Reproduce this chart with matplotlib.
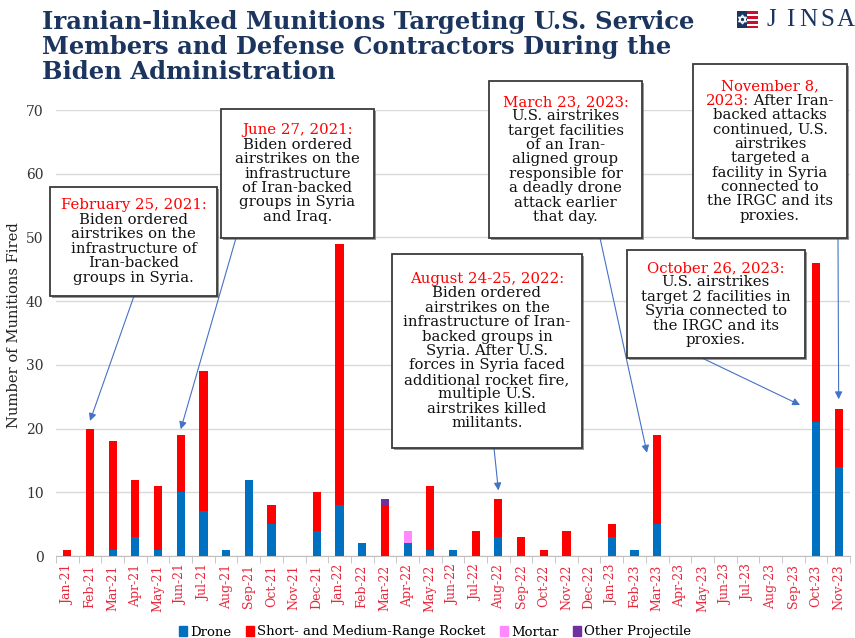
import matplotlib
matplotlib.use("Agg")
import matplotlib.pyplot as plt
import numpy as np
from matplotlib.patches import Rectangle, Polygon
from matplotlib.offsetbox import TextArea, HPacker, VPacker, AnnotationBbox
from matplotlib import patheffects as pe

months = ["Jan-21", "Feb-21", "Mar-21", "Apr-21", "May-21", "Jun-21", "Jul-21", "Aug-21",
          "Sep-21", "Oct-21", "Nov-21", "Dec-21", "Jan-22", "Feb-22", "Mar-22", "Apr-22",
          "May-22", "Jun-22", "Jul-22", "Aug-22", "Sep-22", "Oct-22", "Nov-22", "Dec-22",
          "Jan-23", "Feb-23", "Mar-23", "Apr-23", "May-23", "Jun-23", "Jul-23", "Aug-23",
          "Sep-23", "Oct-23", "Nov-23"]
drone = [0, 0, 1, 3, 1, 10, 7, 1, 12, 5, 0, 4, 8, 2, 0, 2, 1, 1, 0, 3, 0, 0, 0, 0,
         3, 1, 5, 0, 0, 0, 0, 0, 0, 21, 14]
rocket = [1, 20, 17, 9, 10, 9, 22, 0, 0, 3, 0, 6, 41, 0, 8, 0, 10, 0, 4, 6, 3, 1, 4, 0,
          2, 0, 14, 0, 0, 0, 0, 0, 0, 25, 9]
mortar = [0] * 15 + [2] + [0] * 19
other = [0] * 14 + [1] + [0] * 20
series_names = ["Drone", "Short- and Medium-Range Rocket", "Mortar", "Other Projectile"]
colors = ["#0070c0", "#ff0000", "#ff88ff", "#7030a0"]

W, H = 855, 638
plt.rcParams['font.family'] = ['DejaVu Serif']
fig = plt.figure(figsize=(W / 100, H / 100), dpi=100)
ax = fig.add_axes([56 / W, 1 - 556 / H, (850 - 56) / W, (556 - 110) / H])

x = np.arange(len(months))
bottom = np.zeros(len(months))
for vals, c, name in zip([drone, rocket, mortar, other], colors, series_names):
    v = np.array(vals, dtype=float)
    ax.bar(x, v, width=0.36, bottom=bottom, color=c, label=name, zorder=3)
    bottom += v

ax.set_xlim(-0.5, len(months) - 0.5)
ax.set_ylim(0, 70)
ax.set_yticks(range(0, 71, 10))
ax.yaxis.grid(True, color="#d9d9d9", lw=1, zorder=0)
ax.set_axisbelow(True)
for s in ["top", "right", "left"]:
    ax.spines[s].set_visible(False)
ax.spines["bottom"].set_color("#bfbfbf")
ax.set_xticks(x)
ax.set_xticklabels(months, rotation=90, color="#e8283c", fontsize=9)
ax.tick_params(axis="x", which="major", length=0, pad=6)
ax.set_xticks(np.arange(-0.5, len(months), 1), minor=True)
ax.tick_params(axis="x", which="minor", length=5, color="#bfbfbf")
ax.tick_params(axis="y", length=0, pad=9, labelsize=10, labelcolor="#333333")

fig.text(14 / W, 1 - 325 / H, "Number of Munitions Fired", rotation=90,
         ha="center", va="center", fontsize=10.6, color="#222222")

# Title
fig.text(42 / W, 1 - 10 / H,
         "Iranian-linked Munitions Targeting U.S. Service\nMembers and Defense Contractors During the\nBiden Administration",
         ha="left", va="top", fontsize=17.5, fontweight="bold", color="#1c355e", linespacing=1.06)

# Logo
def fpx(px, py):
    return (px / W, 1 - py / H)
ix0, iy0, iw, ih = 737, 11, 21, 17
fig.add_artist(Rectangle(fpx(ix0, iy0 + ih), iw / W, ih / H, transform=fig.transFigure,
                         color="#c8102e", lw=0))
for k in range(3):
    yy = iy0 + 2.5 + k * 5.2
    fig.add_artist(Rectangle(fpx(ix0 + 9, yy + 2.2), (iw - 9) / W, 2.2 / H,
                             transform=fig.transFigure, color="white", lw=0))
fig.add_artist(Rectangle(fpx(ix0, iy0 + ih), 10 / W, ih / H, transform=fig.transFigure,
                         color="#1c355e", lw=0))
cx, cy, r = ix0 + 5.5, iy0 + 8.5, 4.5
for ang0 in (90, 270):
    pts = [fpx(cx + r * np.cos(np.radians(ang0 + a)), cy - r * np.sin(np.radians(ang0 + a)))
           for a in (0, 120, 240)]
    fig.add_artist(Polygon(pts, closed=True, fill=False, edgecolor="white", lw=0.9,
                           transform=fig.transFigure))
for k, ch in enumerate("JINSA"):
    fig.text((771 + k * 18.8) / W, 1 - 20 / H, ch, ha="center", va="center", fontsize=18,
             color="#1c355e", family="Liberation Serif")

# Annotation boxes
boxes = [
    # (left, top, right, bottom) in px, lines, arrow start px, arrow tip data
    ((50, 187, 217, 296),
     [[("February 25, 2021:", "red")], [("Biden ordered", "k")], [("airstrikes on the", "k")],
      [("infrastructure of", "k")], [("Iran-backed", "k")], [("groups in Syria.", "k")]],
     (134, 296), (1, 21.2)),
    ((221, 109, 374, 238),
     [[("June 27, 2021:", "red")], [("Biden ordered", "k")], [("airstrikes on the", "k")],
      [("infrastructure", "k")], [("of Iran-backed", "k")], [("groups in Syria", "k")],
      [("and Iraq.", "k")]],
     (236, 238), (5, 19.9)),
    ((392, 254, 582, 448),
     [[("August 24-25, 2022:", "red")], [("Biden ordered", "k")], [("airstrikes on the", "k")],
      [("infrastructure of Iran-", "k")], [("backed groups in", "k")], [("Syria. After U.S.", "k")],
      [("forces in Syria faced", "k")], [("additional rocket fire,", "k")], [("multiple U.S.", "k")],
      [("airstrikes killed", "k")], [("militants.", "k")]],
     (494, 448), (19, 10.3)),
    ((489, 81, 642, 238),
     [[("March 23, 2023:", "red")], [("U.S. airstrikes", "k")], [("target facilities", "k")],
      [("of an Iran-", "k")], [("aligned group", "k")], [("responsible for", "k")],
      [("a deadly drone", "k")], [("attack earlier", "k")], [("that day.", "k")]],
     (600, 238), (25.55, 16.2)),
    ((627, 250, 805, 358),
     [[("October 26, 2023:", "red")], [("U.S. airstrikes", "k")], [("target 2 facilities in", "k")],
      [("Syria connected to", "k")], [("the IRGC and its", "k")], [("proxies.", "k")]],
     (702, 358), (32.3, 23.7)),
    ((693, 64, 847, 238),
     [[("November 8,", "red")], [("2023:", "red"), (" After Iran-", "k")],
      [("backed attacks", "k")], [("continued, U.S.", "k")], [("airstrikes", "k")],
      [("targeted a", "k")], [("facility in Syria", "k")], [("connected to", "k")],
      [("the IRGC and its", "k")], [("proxies.", "k")]],
     (838, 238), (34, 24.6)),
]

for (l, t, rr, b), lines, start, tip in boxes:
    rect = Rectangle(fpx(l, b), (rr - l) / W, (b - t) / H, transform=fig.transFigure,
                     facecolor="white", edgecolor="#3a3a3a", lw=1.3, zorder=5)
    rect.set_path_effects([pe.SimplePatchShadow(offset=(1.5, -1.5), shadow_rgbFace="#555555",
                                                alpha=0.6), pe.Normal()])
    fig.add_artist(rect)
    rows = []
    for parts in lines:
        tas = [TextArea(s, textprops=dict(color=("#ff0000" if c == "red" else "#111111"),
                                          fontsize=10.7, family="DejaVu Serif"))
               for s, c in parts]
        rows.append(HPacker(children=tas, align="baseline", pad=0, sep=0))
    vp = VPacker(children=rows, align="center", pad=0, sep=0.3)
    ab = AnnotationBbox(vp, fpx((l + rr) / 2, (t + b) / 2), xycoords="figure fraction",
                        frameon=False, box_alignment=(0.5, 0.5), zorder=6)
    fig.add_artist(ab)
    ax.annotate("", xy=tip, xycoords="data", xytext=fpx(*start), textcoords="figure fraction",
                arrowprops=dict(arrowstyle="-|>", color="#4472c4", lw=0.8,
                                mutation_scale=11, shrinkA=0, shrinkB=0),
                zorder=4, annotation_clip=False)

# Legend
leg_handles = [Rectangle((0, 0), 1, 1, color=c) for c in colors]
fig.legend(leg_handles, series_names, loc="center", bbox_to_anchor=(435 / W, 1 - 632 / H),
           ncol=4, frameon=False, fontsize=9.5, handlelength=0.6, handleheight=0.7,
           handletextpad=0.25, columnspacing=1.1, borderaxespad=0, borderpad=0)

fig.savefig("out.png", dpi=100)
